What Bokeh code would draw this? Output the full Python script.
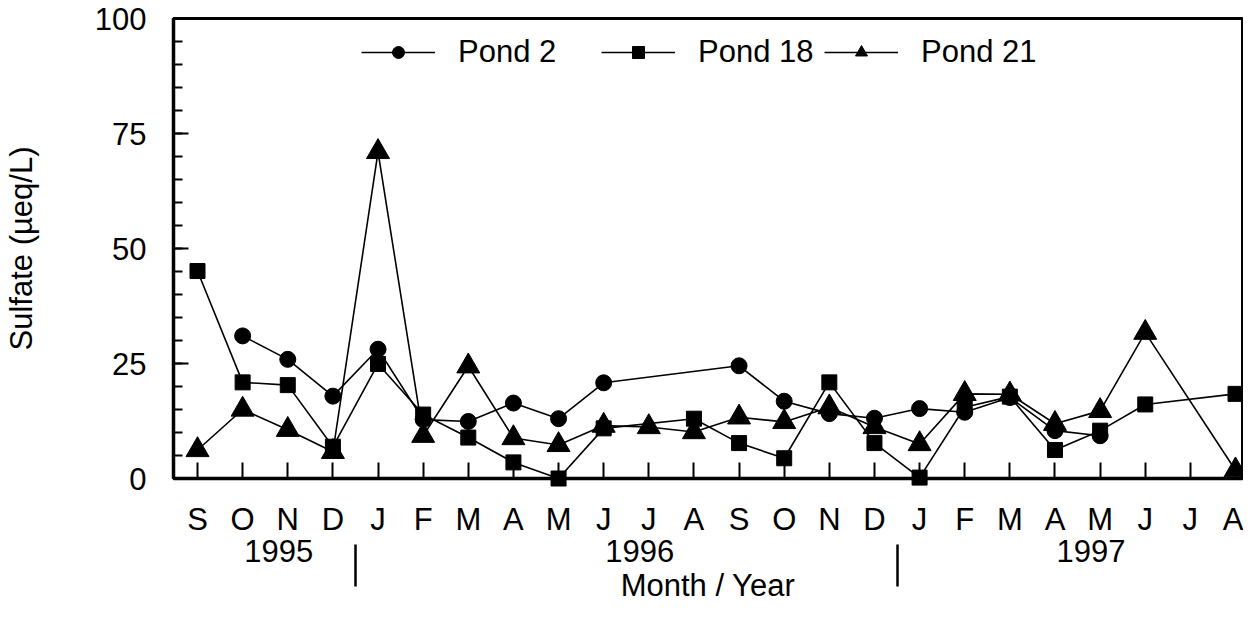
from bokeh.plotting import figure
from bokeh.models import FixedTicker, LinearAxis, Range1d, Legend, LegendItem
from bokeh.embed import file_html
from bokeh.resources import INLINE

# ---- data ----
months = ["S", "O", "N", "D", "J", "F", "M", "A", "M", "J", "J", "A",
          "S", "O", "N", "D", "J", "F", "M", "A", "M", "J", "J", "A"]
years = ["1995", "1996", "1997"]
year_pos = [1.8, 9.8, 19.8]          # centre of each year label (month index)
year_breaks = [3.5, 15.5]            # separators between years

pond2 = [None, 31.0, 25.9, 17.9, 28.1, 12.8, 12.4, 16.4, 13.0, 20.8, None, None,
         24.5, 16.8, 14.1, 13.1, 15.2, 14.4, 17.6, 10.4, 9.3, None, None, None]
pond18 = [45.1, 20.9, 20.3, 6.9, 24.9, 13.9, 8.9, 3.5, 0.0, 10.9, None, 13.0,
          7.7, 4.4, 20.9, 7.7, 0.2, 15.5, 17.8, 6.2, 10.4, 16.1, None, 18.4]
pond21 = [6.2, 15.0, 10.6, 5.8, 71.0, 9.3, 24.4, 8.8, 7.3, 11.5, 11.2, 10.1,
          13.3, 12.3, 15.5, 11.2, 7.5, 18.4, 18.3, 11.9, 14.7, 31.7, None, 1.8]

y_major = [0, 25, 50, 75, 100]
y_minor = list(range(0, 101, 5))

FONT = "Liberation Sans"
FS = "31px"

p = figure(width=1243, height=606, output_backend="svg", toolbar_location=None,
           x_range=Range1d(-0.532, 23.155), y_range=Range1d(0, 100),
           min_border_left=173, min_border_right=1, min_border_top=18,
           min_border_bottom=128)
p.grid.visible = False
p.outline_line_color = "black"
p.outline_line_width = 3
p.background_fill_color = "white"
p.border_fill_color = "white"

# ---- month axis ----
xa = p.xaxis[0]
xa.ticker = FixedTicker(ticks=list(range(len(months))))
xa.major_label_overrides = {i: m for i, m in enumerate(months)}
xa.major_tick_in = 16
xa.major_tick_out = 0
xa.minor_tick_in = 0
xa.minor_tick_out = 0
xa.axis_line_width = 3.5
xa.major_tick_line_width = 2
xa.major_label_text_font = FONT
xa.major_label_text_font_size = FS
xa.major_label_text_color = "black"
xa.major_label_standoff = 23

# ---- year axis (labels + separators) ----
yr = LinearAxis(ticker=FixedTicker(ticks=year_pos, minor_ticks=year_breaks),
                major_label_overrides=dict(zip(year_pos, years)),
                axis_line_color=None, major_tick_line_color=None,
                major_tick_in=0, major_tick_out=0,
                minor_tick_in=-47, minor_tick_out=5, minor_tick_line_width=2.5,
                minor_tick_line_color="black",
                major_label_standoff=-5,
                major_label_text_font=FONT, major_label_text_font_size=FS,
                major_label_text_color="black",
                axis_label="Month / Year", axis_label_standoff=3,
                axis_label_text_font=FONT, axis_label_text_font_size=FS,
                axis_label_text_font_style="normal", axis_label_text_color="black")
p.add_layout(yr, "below")

# ---- y axis ----
ya = p.yaxis[0]
ya.ticker = FixedTicker(ticks=y_major, minor_ticks=y_minor)
ya.major_tick_in = 15
ya.major_tick_out = 0
ya.minor_tick_in = 9
ya.minor_tick_out = 0
ya.axis_line_width = 3.5
ya.major_tick_line_width = 2
ya.minor_tick_line_width = 2
ya.major_label_text_font = FONT
ya.major_label_text_font_size = FS
ya.major_label_text_color = "black"
ya.major_label_standoff = 27
ya.axis_label = "Sulfate (µeq/L)"
ya.axis_label_text_font = FONT
ya.axis_label_text_font_size = FS
ya.axis_label_text_font_style = "normal"
ya.axis_label_text_color = "black"
ya.axis_label_standoff = 53


def series(vals):
    xs = [i for i, v in enumerate(vals) if v is not None]
    ys = [v for v in vals if v is not None]
    return xs, ys


specs = [("Pond 2", pond2, "circle", 16, 188),
         ("Pond 18", pond18, "square", 15, 428),
         ("Pond 21", pond21, "triangle", 23, 651)]

for name, vals, marker, size, lx in specs:
    xs, ys = series(vals)
    lr = p.line(xs, ys, line_color="black", line_width=1.6)
    sr = p.scatter(xs, ys, marker=marker, size=size, fill_color="black",
                   line_color="black", level="overlay")
    leg = Legend(items=[LegendItem(label=name, renderers=[lr, sr])],
                 location=(lx, 408), orientation="horizontal",
                 glyph_width=74, glyph_height=30, label_standoff=23,
                 padding=0, margin=0, spacing=0,
                 border_line_color=None, background_fill_alpha=0,
                 label_text_font=FONT, label_text_font_size=FS,
                 label_text_color="black")
    p.add_layout(leg, "center")

open("out.html", "w").write(file_html(p, INLINE))
